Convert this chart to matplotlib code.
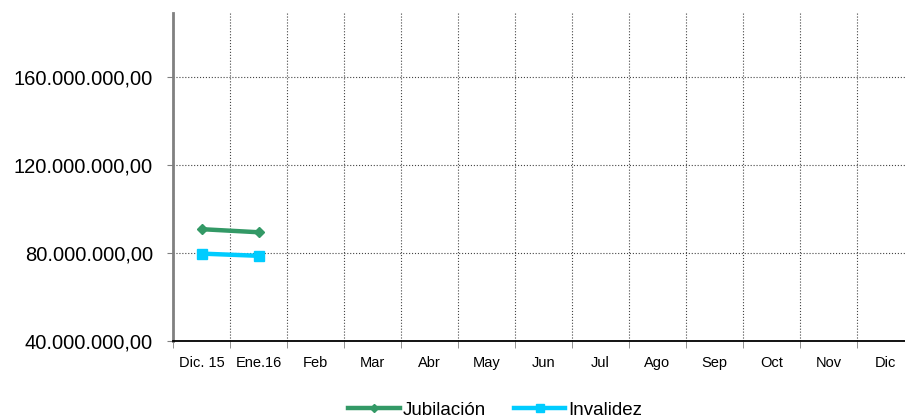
import matplotlib.pyplot as plt
from matplotlib.ticker import FuncFormatter, FixedLocator

plt.rcParams['font.family'] = ['Liberation Sans', 'DejaVu Sans']

meses = ['Dic. 15', 'Ene.16', 'Feb', 'Mar', 'Abr', 'May', 'Jun', 'Jul',
         'Ago', 'Sep', 'Oct', 'Nov', 'Dic']
jubilacion = [90800000, 89400000]
invalidez = [79700000, 78700000]
y_ticks = [40000000, 80000000, 120000000, 160000000]

def fmt(v, pos):
    s = '{:,.2f}'.format(v)
    return s.replace(',', 'X').replace('.', ',').replace('X', '.')

fig = plt.figure(figsize=(9.05, 4.2), dpi=100)
ax = fig.add_axes([173 / 905, 79 / 420, 741 / 905, 328 / 420])

x = list(range(len(meses)))
ax.plot(x[:len(jubilacion)], jubilacion, color='#339966', lw=3.2,
        marker='D', ms=5, label='Jubilación')
ax.plot(x[:len(invalidez)], invalidez, color='#00CCFF', lw=3.2,
        marker='s', ms=7, label='Invalidez')

ax.set_xlim(-0.5, len(meses) - 0.5)
ax.set_ylim(40000000, 189000000)
ax.set_xticks(x)
ax.set_xticklabels(meses, fontsize=10.5)
ax.xaxis.set_minor_locator(FixedLocator([i + 0.5 for i in range(-1, len(meses))]))
ax.tick_params(axis='x', which='major', length=0, pad=11)
ax.tick_params(axis='x', which='minor', length=5, direction='out', color='#808080')
ax.set_yticks(y_ticks)
ax.yaxis.set_major_formatter(FuncFormatter(fmt))
ax.tick_params(axis='y', labelsize=14.5, length=4.5, color='#808080', pad=10)

ax.grid(True, axis='y', which='major', color='#444444', ls=':', lw=0.8)
ax.grid(True, axis='x', which='minor', color='#444444', ls=':', lw=0.8)

for s in ['top', 'right']:
    ax.spines[s].set_visible(False)
ax.spines['left'].set_color('#808080')
ax.spines['left'].set_linewidth(2)
ax.spines['bottom'].set_color('black')
ax.spines['bottom'].set_linewidth(1.3)

ax.legend(loc='center', bbox_to_anchor=(495 / 905, 10 / 420),
          bbox_transform=fig.transFigure, ncol=2, frameon=False,
          fontsize=13.5, handlelength=2.75, handletextpad=0.15,
          columnspacing=1.5, markerscale=0.8)

fig.savefig('out.png', dpi=100)
